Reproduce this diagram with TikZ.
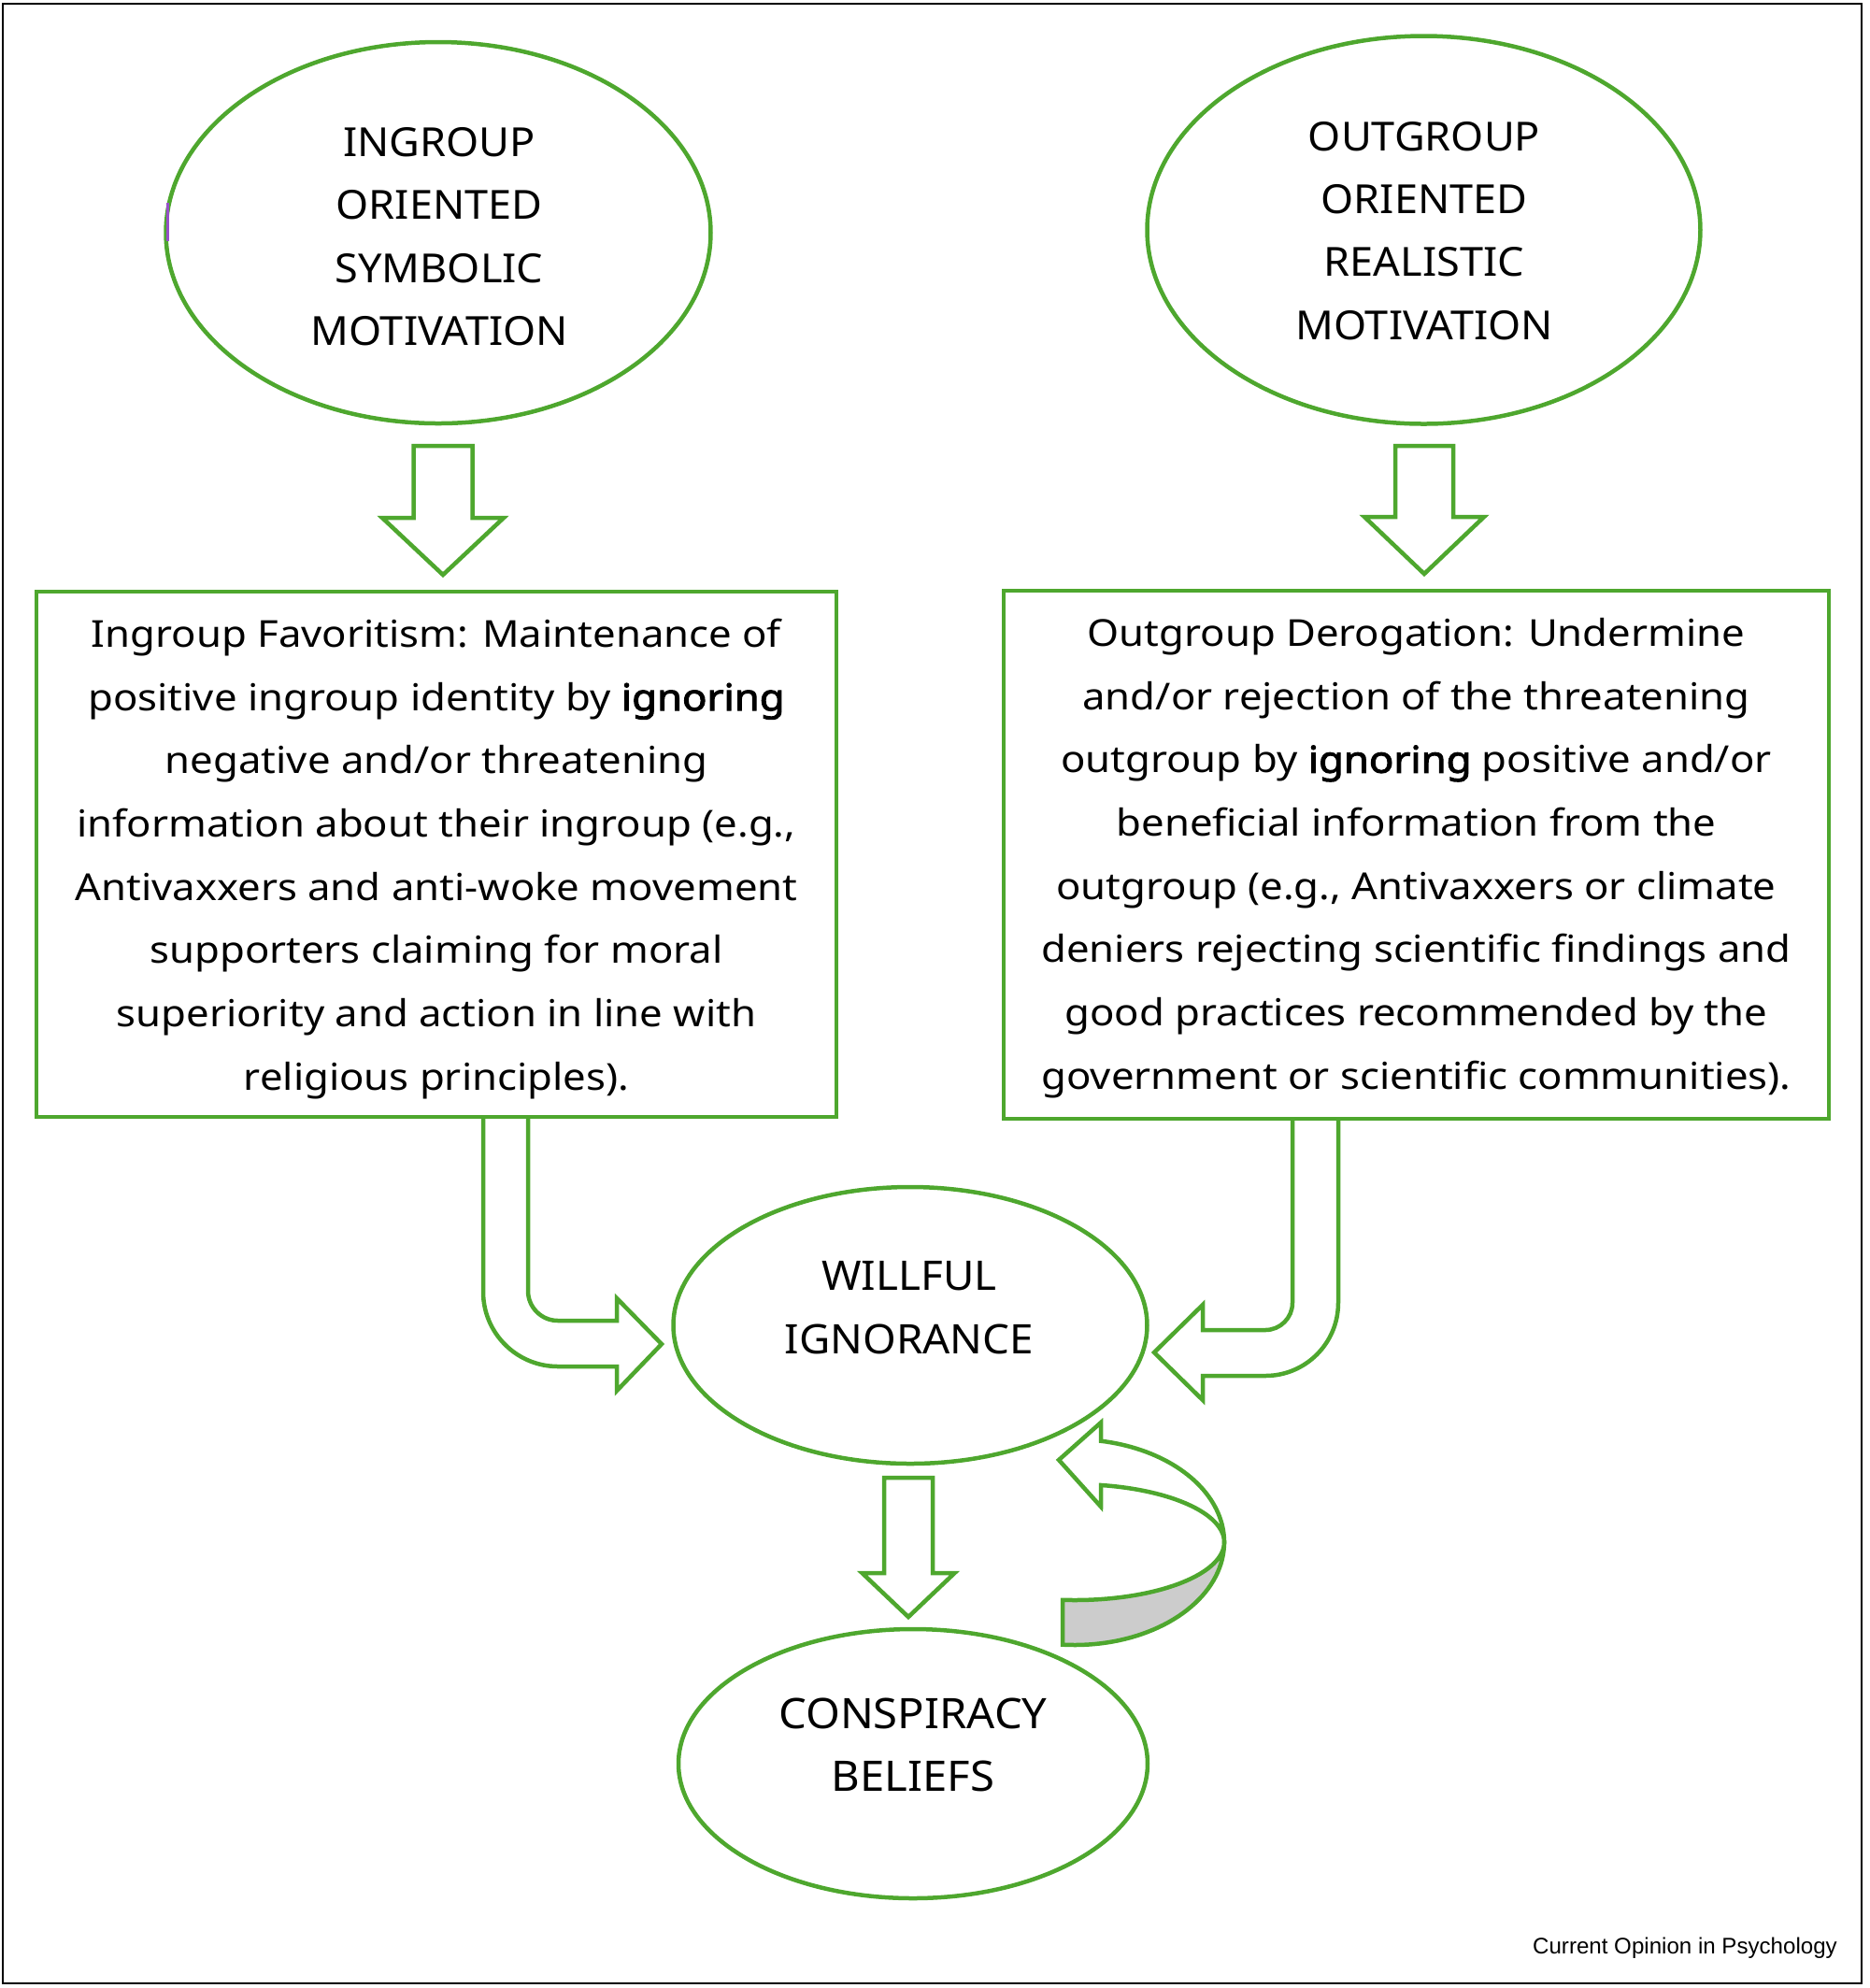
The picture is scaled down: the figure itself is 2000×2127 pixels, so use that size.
\documentclass[tikz,border=0pt]{standalone}
\usepackage{fontspec}
\setmainfont{Noto Sans}[AutoFakeBold=2.5]
\newfontfamily\ovalfont{Noto Sans}[FakeStretch=1.05]
\newfontfamily\boxfont{Noto Sans}[FakeStretch=1.1, AutoFakeBold=2.5]
\newfontfamily\arialf{Liberation Sans}
\usetikzlibrary{shapes.geometric}
\definecolor{grn}{HTML}{4EA72E}
\begin{document}
\begin{tikzpicture}[x=0.1mm,y=-0.1mm,
  oval/.style={ellipse, draw=grn, line width=0.45mm, inner sep=0pt},
  ovaltext/.style={align=center, inner sep=0pt, font=\ovalfont\fontsize{12.2}{19.15}\selectfont},
  txtbox/.style={rectangle, draw=grn, line width=0.45mm, inner sep=0pt},
  boxtext/.style={align=center, inner sep=0pt, font=\boxfont\fontsize{11.3}{19.26}\selectfont},
  blockarrow/.style={draw=grn, line width=0.45mm, fill=white, line join=miter},
  ribbon/.style={draw=grn, line width=0.45mm, line join=miter}]
\useasboundingbox (0,0) rectangle (2000,2127);
\draw[line width=0.25mm] (3,4) rectangle (1992,2122);

% ellipses
\node[oval, minimum width=58.3mm, minimum height=40.8mm] (ing) at (469,249) {};
\node[ovaltext] (ingt) at (470,253) {INGROUP\\ORIENTED\\SYMBOLIC\\MOTIVATION};
\node[oval, minimum width=59.2mm, minimum height=41.5mm] (out) at (1523.5,246) {};
\node[ovaltext] (outt) at (1524,247) {OUTGROUP\\ORIENTED\\REALISTIC\\MOTIVATION};
\node[oval, minimum width=50.7mm, minimum height=29.6mm] (wi) at (974,1418) {};
\node[ovaltext, font=\ovalfont\fontsize{12.4}{19.15}\selectfont] (wit) at (973,1399) {WILLFUL\\IGNORANCE};
\node[oval, minimum width=50.2mm, minimum height=28.8mm] (cb) at (977,1887) {};
\node[ovaltext, font=\ovalfont\fontsize{12.8}{19.15}\selectfont] (cbt) at (977,1867) {CONSPIRACY\\BELIEFS};
\draw[color={rgb,255:red,150;green,80;blue,200}, line width=0.3mm] (179,217) -- (179,258);

% bent block arrows into willful ignorance (drawn below the boxes)
\draw[blockarrow] (517,1195) -- (517,1382) .. controls (517,1426.2) and (552.8,1462) .. (597,1462)
  -- (660,1462) -- (660,1488) -- (708,1438) -- (660,1389) -- (660,1413) -- (597,1413)
  .. controls (579.3,1413) and (565,1398.7) .. (565,1381) -- (565,1195);
\draw[blockarrow] (1432,1197) -- (1432,1394) .. controls (1432,1437.1) and (1397.1,1472) .. (1354,1472)
  -- (1287,1472) -- (1287,1498) -- (1235,1447) -- (1287,1396) -- (1287,1423) -- (1354,1423)
  .. controls (1370,1423) and (1383,1410) .. (1383,1394) -- (1383,1197);

% text boxes
\node[txtbox, minimum width=85.6mm, minimum height=56.2mm] (fav) at (467,914) {};
\node[boxtext] (favt) at (467,919)
  {Ingroup Favoritism: Maintenance of\\
   positive ingroup identity by \textbf{ignoring}\\
   negative and/or threatening\\
   information about their ingroup (e.g.,\\
   Antivaxxers and anti-woke movement\\
   supporters claiming for moral\\
   superiority and action in line with\\
   religious principles).};
\node[txtbox, minimum width=88.3mm, minimum height=56.5mm] (der) at (1515.5,914.5) {};
\node[boxtext] (dert) at (1515.5,918)
  {Outgroup Derogation: Undermine\\
   and/or rejection of the threatening\\
   outgroup by \textbf{ignoring} positive and/or\\
   beneficial information from the\\
   outgroup (e.g., Antivaxxers or climate\\
   deniers rejecting scientific findings and\\
   good practices recommended by the\\
   government or scientific communities).};

% straight block arrows
\draw[blockarrow] (442.5,477) -- (505.5,477) -- (505.5,554) -- (539,554) -- (474,615)
  -- (409,554) -- (442.5,554) -- cycle;
\draw[blockarrow] (1493,477) -- (1555,477) -- (1555,553) -- (1588,553) -- (1524,614)
  -- (1460,553) -- (1493,553) -- cycle;
\draw[blockarrow] (946,1581) -- (998,1581) -- (998,1683) -- (1021.5,1683) -- (972,1730)
  -- (922.5,1683) -- (946,1683) -- cycle;

% feedback ribbon arrow
\filldraw[ribbon, fill=white] (1133,1562) -- (1178,1522) -- (1178,1541.7)
  -- plot[domain=-79.9:0, samples=40] ({1150+160*cos(\x)},{1650+110*sin(\x)})
  -- plot[domain=0:-79.9, samples=40] ({1150+160*cos(\x)},{1650+62*sin(\x)})
  -- (1178,1612) -- cycle;
\filldraw[ribbon, fill=gray!40]
  plot[domain=0:94.66, samples=40] ({1150+160*cos(\x)},{1650+110*sin(\x)})
  -- plot[domain=94.66:0, samples=40] ({1150+160*cos(\x)},{1650+62*sin(\x)}) -- cycle;

\node[font=\arialf\fontsize{6.86}{8}\selectfont, anchor=base, inner sep=0pt] (src) at (1803,2090)
  {Current Opinion in Psychology};
\end{tikzpicture}
\end{document}
